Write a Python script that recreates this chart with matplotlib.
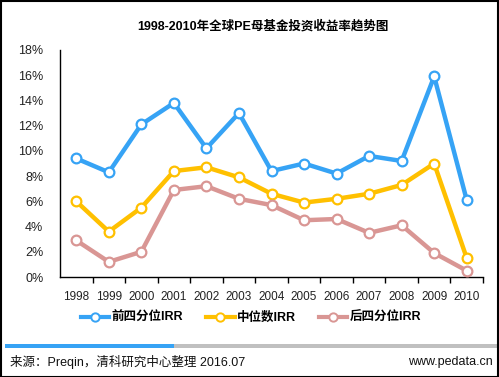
import numpy as np
import matplotlib.pyplot as plt
from matplotlib.patches import Rectangle
from matplotlib.lines import Line2D
from matplotlib.ticker import FixedLocator, FuncFormatter

plt.rcParams['font.family'] = ['Liberation Sans', 'Noto Sans CJK SC', 'DejaVu Sans']

years = ['1998', '1999', '2000', '2001', '2002', '2003', '2004',
         '2005', '2006', '2007', '2008', '2009', '2010']
top_q = [9.4, 8.3, 12.1, 13.8, 10.2, 13.0, 8.4, 9.0, 8.2, 9.6, 9.2, 15.9, 6.1]
median = [6.0, 3.6, 5.5, 8.4, 8.7, 7.9, 6.6, 5.9, 6.2, 6.6, 7.3, 9.0, 1.5]
bottom_q = [2.9, 1.2, 2.0, 6.9, 7.2, 6.2, 5.7, 4.5, 4.6, 3.5, 4.1, 1.9, 0.5]
names = ['前四分位IRR', '中位数IRR', '后四分位IRR']
colors = ['#36A3F5', '#FFC000', '#D99694']

W, H = 499, 377
fig = plt.figure(figsize=(W / 100, H / 100), dpi=100)
ax = fig.add_axes([60 / W, 1 - 277 / H, 423 / W, 227 / H])

x = np.arange(len(years))
for vals, c in zip([top_q, median, bottom_q], colors):
    ax.plot(x, vals, color=c, lw=3.2, marker='o', ms=7, mfc='white',
            mec=c, mew=1.6, solid_joinstyle='round', clip_on=False, zorder=3)

ax.set_xlim(-0.5, len(years) - 0.5)
ax.set_ylim(0, 18)
ax.set_yticks(np.arange(0, 19, 2))
ax.yaxis.set_major_formatter(FuncFormatter(lambda v, p: f'{int(v)}%'))
ax.tick_params(axis='y', length=0, labelsize=9, pad=12, colors='#222222')
ax.set_xticks(x)
ax.set_xticklabels(years)
ax.tick_params(axis='x', which='major', length=0, labelsize=8.5, pad=10, colors='#222222')
ax.xaxis.set_minor_locator(FixedLocator(np.arange(0.5, len(years) + 0.5, 1)))
ax.tick_params(axis='x', which='minor', length=4, width=1, direction='out')
for s in ['top', 'right']:
    ax.spines[s].set_visible(False)
for s in ['left', 'bottom']:
    ax.spines[s].set_linewidth(1)

fig.text(263 / W, 1 - 26 / H, '1998-2010年全球PE母基金投资收益率趋势图',
         ha='center', va='center', fontsize=9, fontweight='bold',
         family=['Liberation Sans', 'Noto Sans CJK SC'])

handles = [Line2D([], [], color=c, lw=3, marker='o', ms=6, mfc='white', mec=c, mew=1.4)
           for c in colors]
leg = fig.legend(handles, names, loc='center', bbox_to_anchor=(251 / W, 1 - 318 / H),
                 ncol=3, frameon=False, handlelength=2.3, columnspacing=1.8,
                 handletextpad=0.2, prop={'size': 9, 'weight': 'bold',
                                          'family': ['Liberation Sans', 'Noto Sans CJK SC']})

fig.patches.append(Rectangle((5 / W, 1 - 347.5 / H), 169 / W, 3.5 / H,
                             transform=fig.transFigure, color='#36A3F5', lw=0))
fig.patches.append(Rectangle((174 / W, 1 - 347.5 / H), 323 / W, 3.5 / H,
                             transform=fig.transFigure, color='#C0C0C0', lw=0))
fig.text(10 / W, 1 - 362 / H, '来源：Preqin，清科研究中心整理 2016.07', ha='left',
         va='center', fontsize=9, color='#111111',
         family=['Liberation Sans', 'Noto Sans CJK SC'])
fig.text(493 / W, 1 - 362 / H, 'www.pedata.cn', ha='right', va='center',
         fontsize=9, color='#111111')

fig.patches.append(Rectangle((0.5 / W, 0.5 / H), (W - 1.5) / W, (H - 1.5) / H,
                             transform=fig.transFigure, fill=False, ec='black', lw=1.5))

fig.savefig('out.png', dpi=100)
